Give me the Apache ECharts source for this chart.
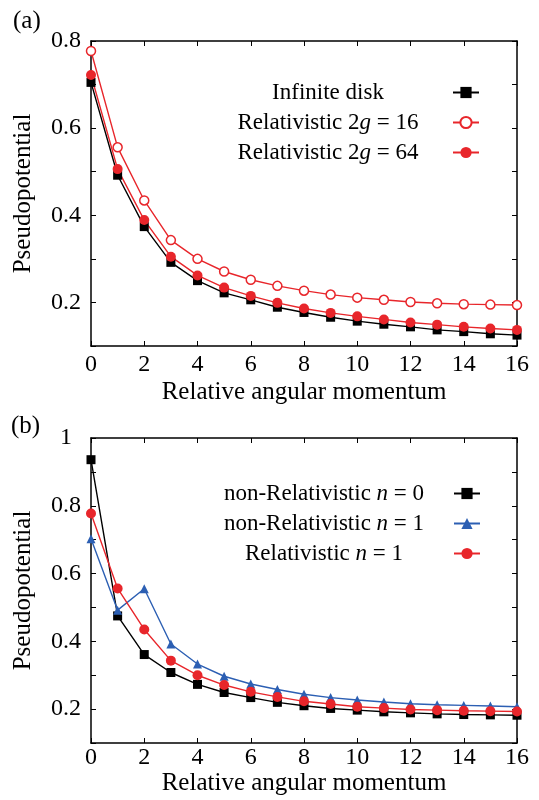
<!DOCTYPE html>
<html>
<head>
<meta charset="utf-8">
<script src="https://cdn.jsdelivr.net/npm/echarts@6/dist/echarts.min.js"></script>
<style>
html,body{margin:0;padding:0;background:#fff;}
#chart{width:539px;height:800px;}
</style>
</head>
<body>
<div id="chart"></div>
<script>
// ---------- data ----------
const momentum = [0,1,2,3,4,5,6,7,8,9,10,11,12,13,14,15,16];

// panel (a)
const infiniteDisk = [0.705,0.492,0.374,0.292,0.250,0.222,0.206,0.189,0.177,0.166,0.157,0.150,0.144,0.137,0.133,0.128,0.125];
const relativistic16 = [0.777,0.556,0.434,0.343,0.300,0.271,0.252,0.238,0.227,0.218,0.211,0.206,0.201,0.198,0.196,0.195,0.194];
const relativistic64 = [0.722,0.506,0.389,0.305,0.262,0.234,0.215,0.199,0.186,0.176,0.168,0.161,0.154,0.149,0.144,0.140,0.137];

// panel (b)
const nonRelN0 = [0.936,0.475,0.361,0.308,0.273,0.249,0.234,0.220,0.210,0.202,0.197,0.192,0.189,0.186,0.184,0.183,0.182];
const nonRelN1 = [0.703,0.492,0.555,0.392,0.333,0.297,0.274,0.258,0.244,0.234,0.227,0.221,0.216,0.213,0.211,0.209,0.207];
const relN1 = [0.777,0.556,0.435,0.343,0.300,0.271,0.251,0.236,0.223,0.215,0.207,0.203,0.199,0.197,0.195,0.194,0.193];

const namesA = ['Infinite disk', 'Relativistic 2g = 16', 'Relativistic 2g = 64'];
const namesB = ['non-Relativistic n = 0', 'non-Relativistic n = 1', 'Relativistic n = 1'];

const xTicks = [0,2,4,6,8,10,12,14,16];
const xTitle = 'Relative angular momentum';
const yTitle = 'Pseudopotential';
const panelTitles = ['(a)', '(b)'];

// ---------- styles ----------
const FONT = '"Liberation Serif", "DejaVu Serif", serif';
const RED = '#e8262b';
const BLUE = '#2c5fb3';
const BLACK = '#000000';

const pairs = arr => arr.map((v, i) => [momentum[i], v]);

function legendFormatter(name) {
  const m = name.match(/^(.*?)(g|n)( = .*)$/);
  if (!m) return '{r|' + name + '}';
  return '{r|' + m[1] + '}{i|' + m[2] + '}{r|' + m[3] + '}';
}

function xAxes(gridIndex, labelMargin, nameGap) {
  return [{
    gridIndex, type: 'value', min: 0, max: 16, interval: 2, position: 'bottom',
    name: xTitle, nameLocation: 'middle', nameGap,
    nameTextStyle: {fontFamily: FONT, fontSize: 25, color: BLACK},
    axisLine: {show: true, onZero: false, lineStyle: {color: BLACK, width: 1.5}},
    axisTick: {show: true, inside: true, length: 5, lineStyle: {color: BLACK, width: 1}},
    axisLabel: {show: true, margin: labelMargin, fontFamily: FONT, fontSize: 24, color: BLACK,
      formatter: v => xTicks.indexOf(v) >= 0 ? String(v) : ''},
    splitLine: {show: false}
  }, {
    gridIndex, type: 'value', min: 0, max: 16, interval: 2, position: 'top',
    axisLine: {show: true, onZero: false, lineStyle: {color: BLACK, width: 1.5}},
    axisTick: {show: true, inside: true, length: 5, lineStyle: {color: BLACK, width: 1}},
    axisLabel: {show: false},
    splitLine: {show: false}
  }];
}

function yAxes(gridIndex, max) {
  return [{
    gridIndex, type: 'value', min: 0.1, max, interval: 0.1, position: 'left',
    name: yTitle, nameLocation: 'middle', nameGap: 55, nameRotate: 90,
    nameTextStyle: {fontFamily: FONT, fontSize: 25, color: BLACK},
    axisLine: {show: true, onZero: false, lineStyle: {color: BLACK, width: 1.5}},
    axisTick: {show: true, inside: true, length: 5, lineStyle: {color: BLACK, width: 1}},
    axisLabel: {show: true, margin: 25, align: 'center', fontFamily: FONT, fontSize: 24, color: BLACK,
      showMinLabel: true, showMaxLabel: true,
      formatter: v => {
        const k = Math.round(v * 10);
        if (k % 2 !== 0) return '';
        return k === 10 ? '1' : (k / 10).toFixed(1);
      }},
    splitLine: {show: false}
  }, {
    gridIndex, type: 'value', min: 0.1, max, interval: 0.1, position: 'right',
    axisLine: {show: true, onZero: false, lineStyle: {color: BLACK, width: 1.5}},
    axisTick: {show: true, inside: true, length: 5, lineStyle: {color: BLACK, width: 1}},
    axisLabel: {show: false},
    splitLine: {show: false}
  }];
}

function line(name, data, xi, yi, color, symbol, size, filled) {
  return {
    name, type: 'line', xAxisIndex: xi, yAxisIndex: yi, data: pairs(data),
    symbol, symbolSize: size, showSymbol: true,
    lineStyle: {color, width: 1.4},
    itemStyle: filled ? {color} : {color: '#ffffff', borderColor: color, borderWidth: 1.5},
    color, animation: false, z: 2
  };
}

const richStyle = {
  r: {fontFamily: FONT, fontSize: 23, color: BLACK, align: 'center'},
  i: {fontFamily: FONT, fontSize: 23, color: BLACK, fontStyle: 'italic', align: 'center'}
};

const option = {
  animation: false,
  backgroundColor: '#ffffff',
  title: [
    {text: panelTitles[0], left: 8, top: 4, textStyle: {fontFamily: FONT, fontSize: 25, fontWeight: 'normal', color: BLACK}},
    {text: panelTitles[1], left: 6, top: 409, textStyle: {fontFamily: FONT, fontSize: 25, fontWeight: 'normal', color: BLACK}}
  ],
  grid: [
    {left: 91, right: 22, top: 41, height: 305, containLabel: false, outerBoundsMode: 'none'},
    {left: 91, right: 22, top: 438, height: 305, containLabel: false, outerBoundsMode: 'none'}
  ],
  xAxis: [...xAxes(0, 7, 34), ...xAxes(1, 3, 27)],
  yAxis: [...yAxes(0, 0.8), ...yAxes(1, 1.0)],
  legend: [
    {data: namesA, orient: 'vertical', align: 'right', right: 54, top: 76, itemWidth: 26, itemHeight: 14,
     itemGap: 7, selectedMode: false, formatter: legendFormatter,
     textStyle: {width: 240, rich: richStyle}},
    {data: namesB, orient: 'vertical', align: 'right', right: 53, top: 477, itemWidth: 26, itemHeight: 14,
     itemGap: 7, selectedMode: false, formatter: legendFormatter,
     textStyle: {width: 250, rich: richStyle}}
  ],
  series: [
    line(namesA[0], infiniteDisk, 0, 0, BLACK, 'rect', 9, true),
    line(namesA[1], relativistic16, 0, 0, RED, 'circle', 9, false),
    line(namesA[2], relativistic64, 0, 0, RED, 'circle', 10, true),
    line(namesB[0], nonRelN0, 2, 2, BLACK, 'rect', 9, true),
    line(namesB[1], nonRelN1, 2, 2, BLUE, 'triangle', 9, true),
    line(namesB[2], relN1, 2, 2, RED, 'circle', 10, true)
  ]
};

const chart = echarts.init(document.getElementById('chart'), null, {renderer: 'canvas'});
chart.setOption(option);
</script>
</body>
</html>
